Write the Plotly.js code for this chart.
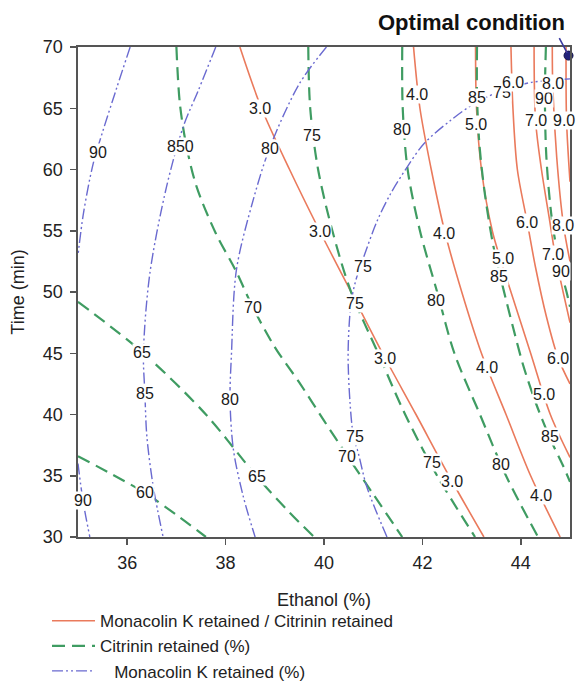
<!DOCTYPE html>
<html><head><meta charset="utf-8">
<script src="https://cdn.plot.ly/plotly-3.0.1.min.js"></script>
<style>html,body{margin:0;padding:0;background:#fff}</style>
</head><body><div id="chart" style="width:577px;height:681px"></div>
<script>
// ---- Monacolin K retained / Citrinin retained (ratio) contour lines ----
const ratio3X = [38.29,38.73,39.3,39.91,40.55,41.19,41.87,42.54,43.25];
const ratio3Y = [70,65,60,55,50,45,40,35,30];
const ratio4X = [41.82,41.95,42.18,42.45,42.8,43.2,43.7,44.2,44.8];
const ratio4Y = [70,65,60,55,50,45,40,35,30];
const ratio5X = [43.08,43.1,43.2,43.42,43.6,43.8,44.2,44.6,45];
const ratio5Y = [70,65,60,55,52.5,50,45,40,36.5];
const ratio6X = [43.8,43.84,43.93,44.13,44.3,44.52,44.76,45];
const ratio6Y = [70,65,60,55.7,52,48,44.6,42.5];
const ratio7X = [44.27,44.3,44.42,44.58,44.7,44.86,45];
const ratio7Y = [70,64,60,56,53,50,47.5];
const ratio8X = [44.64,44.65,44.73,44.87,45];
const ratio8Y = [70,66.8,61,55.4,52.5];
const ratio9X = [44.92,44.93,45];
const ratio9Y = [70,64,59];
const ratioLabelText = ['3.0','3.0','3.0','3.0','4.0','4.0','4.0','4.0','5.0','5.0','5.0','6.0','6.0','6.0','7.0','7.0','8.0','8.0','9.0'];
const ratioLabelX = [38.7,39.92,41.24,42.6,41.89,42.43,43.31,44.41,43.08,43.64,44.47,43.84,44.13,44.76,44.3,44.66,44.66,44.86,44.88];
const ratioLabelY = [65.0,54.9,44.6,34.5,66.1,54.8,43.8,33.4,63.7,52.7,41.6,67.1,55.7,44.6,64.0,53.1,67.0,55.4,64.0];

// ---- Citrinin retained (%) contour lines ----
const cit60X = [35,35.7,36.4,37.0,37.6];
const cit60Y = [36.6,35.1,33.5,31.8,30];
const cit65X = [35,36.33,37.6,38.62,39.3,39.8];
const cit65Y = [49.2,45,40,35,32,30];
const cit70X = [37.0,37.07,37.2,37.41,37.8,38.2,38.56,39.0,39.5,40.0,40.46,41.0,41.59];
const cit70Y = [70,65.4,62,58.6,54.8,51.8,48.7,45.5,42.6,39.5,36.7,33.5,30];
const cit75X = [39.68,39.72,39.88,40.17,40.55,41.1,41.65,42.3,43.07];
const cit75Y = [70,65,60,55,50,45,40,35,30];
const cit80X = [41.59,41.6,41.7,41.95,42.3,42.65,43.17,43.7,44.35];
const cit80Y = [70,65,60,55,50,45,40,35,30];
const cit85X = [43.11,43.11,43.16,43.27,43.43,43.6,43.85,44.05,44.3,44.6,44.85,45];
const cit85Y = [70,66,62,58,54,51,47,44,41,38,35.9,34.5];
const cit90X = [44.51,44.49,44.52,44.63,44.8,44.93,45];
const cit90Y = [70,66,61,56,52,50,48.8];
const citLabelText = ['60','65','65','70','70','75','75','75','80','80','80','85','85','85','90','90','850'];
const citLabelX = [36.36,36.3,38.63,38.56,40.46,39.75,40.63,42.2,41.59,42.27,43.59,43.11,43.55,44.6,44.47,44.82,37.09];
const citLabelY = [33.6,45.1,34.9,48.7,36.6,62.8,49.1,36.1,63.3,49.3,35.9,65.9,51.3,38.2,65.8,51.7,61.9];

// ---- Monacolin K retained (%) contour lines ----
const mk90aX = [36.06,35.79,35.51,35.31,35.11,35.0];
const mk90aY = [70,66.7,63.2,60.5,56.4,53];
const mk90bX = [35.0,35.1,35.24];
const mk90bY = [36,33,30];
const mk85X = [37.8,37.45,37.14,36.8,36.46,36.33,36.36,36.4,36.53,36.73];
const mk85Y = [70,66.5,63.5,58.6,51.5,45,41.7,38.2,34.1,30];
const mk80X = [40.05,39.5,38.9,38.56,38.22,38.12,38.09,38.16,38.36,38.6];
const mk80Y = [70,67,61.8,57.5,51.8,45,41.2,37.1,33.3,30];
const mk75X = [41.28,40.87,40.7,40.6,40.53,40.49,40.55,40.65,40.82,41.08,41.35,41.69,42.03,42.57,43.1,43.66,44.2,44.67,45];
const mk75Y = [30,34.1,36.8,38.2,40.9,45,49.1,51,53,55.8,58,60.2,62.1,64,65.5,66.5,67.1,67.3,67.4];
const mkLabelText = ['90','90','85','80','80','75','75','75'];
const mkLabelX = [35.41,35.1,36.36,38.9,38.09,40.63,40.8,43.62];
const mkLabelY = [61.4,33.0,41.7,61.7,41.2,38.2,52.1,66.3];

// ---- Optimal condition ----
const optimalX = [44.97];
const optimalY = [69.3];

const RED = '#ea7a5c', GREEN = '#3f9c62', BLUE = '#6a6ad0';
const redStyle = {color: RED, width: 1.6, dash: 'solid'};
const greenStyle = {color: GREEN, width: 2.2, dash: '13px,7px'};
const blueStyle = {color: BLUE, width: 1.4, dash: '11px,3px,2px,3px,2px,3px'};

function lineTrace(x, y, style, name, show, group) {
  return {type: 'scatter', mode: 'lines', x: x, y: y, name: name,
    line: Object.assign({shape: 'spline', smoothing: 0.9}, style),
    showlegend: show, legendgroup: group, hoverinfo: 'skip'};
}

const traces = [];
const redLines = [[ratio3X,ratio3Y],[ratio4X,ratio4Y],[ratio5X,ratio5Y],[ratio6X,ratio6Y],[ratio7X,ratio7Y],[ratio8X,ratio8Y],[ratio9X,ratio9Y]];
const greenLines = [[cit60X,cit60Y],[cit65X,cit65Y],[cit70X,cit70Y],[cit75X,cit75Y],[cit80X,cit80Y],[cit85X,cit85Y],[cit90X,cit90Y]];
const blueLines = [[mk90aX,mk90aY],[mk90bX,mk90bY],[mk85X,mk85Y],[mk80X,mk80Y],[mk75X,mk75Y]];
redLines.forEach((l,i) => traces.push(lineTrace(l[0], l[1], redStyle, 'Monacolin K retained / Citrinin retained', i===0, 'r')));
greenLines.forEach((l,i) => traces.push(lineTrace(l[0], l[1], greenStyle, 'Citrinin retained (%)', i===0, 'g')));
blueLines.forEach((l,i) => traces.push(lineTrace(l[0], l[1], blueStyle, '\u00A0\u00A0\u00A0Monacolin K retained (%)', i===0, 'b')));
traces.push({type:'scatter', mode:'markers', x: optimalX, y: optimalY, showlegend:false, hoverinfo:'skip', cliponaxis:false,
  marker:{size:9, color:'#22227a', line:{color:'#11114a', width:1}}});

const FONT = 'Liberation Sans, Arial, sans-serif';
const annotations = [];
function addLabels(texts, xs, ys) {
  texts.forEach((t,i) => annotations.push({x: xs[i], y: ys[i], xref:'x', yref:'y', text: t, showarrow:false,
    font:{family:FONT, size:16, color:'#1a1a1a'}, bgcolor:'#ffffff', borderpad:0}));
}
addLabels(mkLabelText, mkLabelX, mkLabelY);
addLabels(citLabelText, citLabelX, citLabelY);
addLabels(ratioLabelText, ratioLabelX, ratioLabelY);
annotations.push({xref:'paper', yref:'paper', x:0.8, y:1.051, xanchor:'center', yanchor:'middle',
  text:'<b>Optimal condition</b>', showarrow:false, font:{family:FONT, size:22, color:'#111'}});
annotations.push({x: optimalX[0], y: optimalY[0], xref:'x', yref:'y', text:'', showarrow:true, ax:-10, ay:-19,
  arrowcolor:'#3a3aa0', arrowwidth:1.6, arrowhead:0, standoff:3});

const axisFont = {family:FONT, size:18, color:'#222'};
const layout = {
  width:577, height:681,
  margin:{l:78, r:7, t:47, b:144, autoexpand:false},
  paper_bgcolor:'#fff', plot_bgcolor:'#fff',
  font:{family:FONT},
  xaxis:{range:[35,45], tickvals:[36,38,40,42,44], ticks:'outside', ticklen:6, tickwidth:1.5, tickcolor:'#555',
    ticklabelstandoff:3, automargin:false,
    showline:true, mirror:true, linecolor:'#555', linewidth:1.6, showgrid:false, zeroline:false, tickfont:axisFont,
    title:{text:'Ethanol (%)', font:{family:FONT, size:18, color:'#222'}, standoff:21}},
  yaxis:{range:[30,70], dtick:5, ticks:'outside', ticklen:6, tickwidth:1.5, tickcolor:'#555',
    ticklabelstandoff:4, automargin:false,
    showline:true, mirror:true, linecolor:'#555', linewidth:1.6, showgrid:false, zeroline:false, tickfont:axisFont,
    title:{text:'Time (min)', font:{family:FONT, size:18, color:'#222'}, standoff:13}},
  legend:{orientation:'v', x:-0.063, y:-0.135, xanchor:'left', yanchor:'top', traceorder:'grouped', tracegroupgap:0,
    itemwidth:43, bgcolor:'rgba(0,0,0,0)', font:{family:FONT, size:17, color:'#222'}},
  annotations: annotations,
  showlegend:true
};
Plotly.newPlot('chart', traces, layout, {staticPlot:true, displayModeBar:false});
</script></body></html>
